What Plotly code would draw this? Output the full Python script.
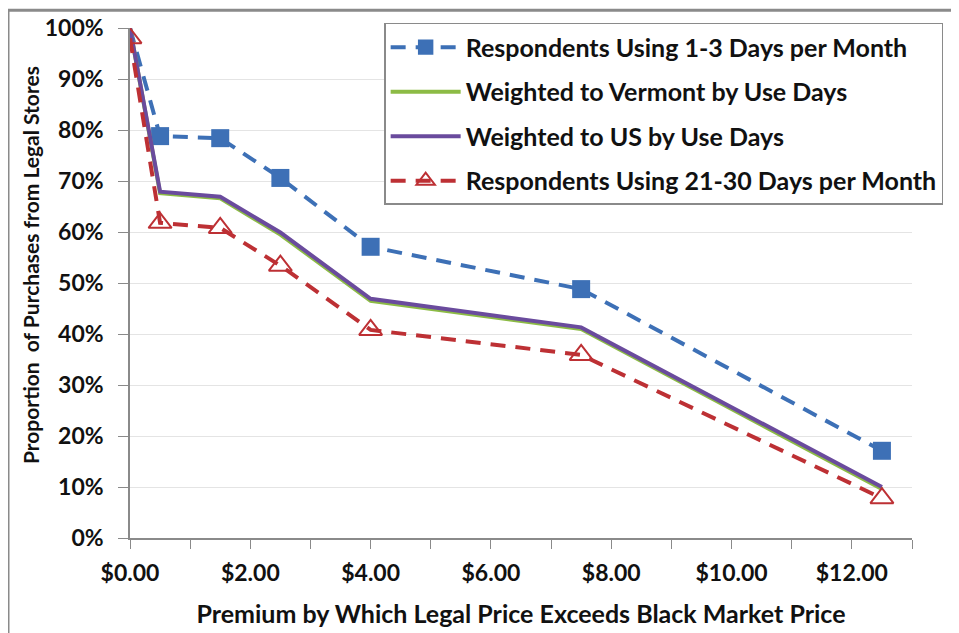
import plotly.graph_objects as go

# premium in $ over black market price
premium = [0, 0.5, 1.5, 2.5, 4, 7.5, 12.5]

# proportion of purchases from legal stores, %
light_users = [100, 78.8, 78.4, 70.6, 57.1, 48.8, 17.1]
weighted_vt = [100, 67.6, 66.6, 59.5, 46.5, 41.0, 9.6]
weighted_us = [100, 67.9, 66.9, 59.9, 46.9, 41.3, 10.0]
heavy_users = [98, 61.8, 60.8, 53.4, 40.8, 35.9, 7.8]

names = ['Respondents Using 1-3 Days per Month',
         'Weighted to Vermont by Use Days',
         'Weighted to US by Use Days',
         'Respondents Using 21-30 Days per Month']

BLUE = '#3d70b6'
GREEN = '#8cbb45'
PURPLE = '#6a4b9d'
RED = '#bd3034'
FONT = 'Lato'
bold = lambda s: dict(family=FONT, size=s, weight='bold', color='#111111')

fig = go.Figure()

fig.add_trace(go.Scatter(
    x=premium, y=light_users, name=names[0], legendgroup='a',
    mode='lines+markers',
    line=dict(color=BLUE, width=4, dash='15px,10px'),
    marker=dict(symbol='square', size=[0] + [18] * (len(premium) - 1),
                color=BLUE, opacity=1, line=dict(width=0))))
fig.add_trace(go.Scatter(
    x=premium, y=weighted_vt, name=names[1], legendgroup='b',
    mode='lines', line=dict(color=GREEN, width=4)))
fig.add_trace(go.Scatter(
    x=premium, y=weighted_us, name=names[2], legendgroup='c',
    mode='lines', line=dict(color=PURPLE, width=4)))
fig.add_trace(go.Scatter(
    x=premium, y=heavy_users, name=names[3], legendgroup='d',
    mode='lines+markers',
    line=dict(color=RED, width=4, dash='15px,10px'),
    marker=dict(symbol='triangle-up-open', size=20, color=RED, line=dict(width=2))))

# outer frame (cut at right and bottom like the source image)
frame = dict(type='line', xref='paper', yref='paper', line=dict(color='#8a8a8a', width=3))
fig.add_shape(frame, x0=-0.156, x1=1.1, y0=1.035, y1=1.035)
fig.add_shape(frame, x0=-0.156, x1=-0.156, y0=1.035, y1=-0.2)

# y title sits a bit above the plot centre in the original, so use an annotation
fig.add_annotation(text='Proportion  of Purchases from Legal Stores', textangle=-90,
                   xref='paper', yref='paper', x=-0.128, y=0.535,
                   xanchor='center', yanchor='middle', showarrow=False, font=bold(21))

fig.update_layout(
    width=959, height=633,
    margin=dict(l=122, r=55, t=20, b=103, autoexpand=False),
    paper_bgcolor='white', plot_bgcolor='white',
    font=bold(23),
    showlegend=True,
    legend=dict(
        x=0.325, y=1.010, xanchor='left', yanchor='top',
        bgcolor='white', bordercolor='#8a8a8a', borderwidth=1.5,
        font=bold(25),
        itemwidth=70, traceorder='grouped', tracegroupgap=9),
    xaxis=dict(
        range=[0, 13], dtick=2, tickprefix='$', tickformat='.2f',
        showgrid=False, showline=True, linecolor='#8a8a8a', linewidth=1.5,
        ticks='outside', ticklen=9, tickcolor='#8a8a8a',
        minor=dict(dtick=1, ticks='outside', ticklen=9, tickcolor='#8a8a8a'),
        tickfont=bold(23), ticklabelstandoff=5, automargin=False,
        title=dict(text='Premium by Which Legal Price Exceeds Black Market Price',
                   font=bold(25), standoff=20),
        zeroline=False),
    yaxis=dict(
        range=[0, 100], dtick=10, ticksuffix='%',
        showgrid=True, gridcolor='#e4e4e4', gridwidth=1,
        showline=True, linecolor='#8a8a8a', linewidth=1.5,
        ticks='outside', ticklen=10, tickcolor='#8a8a8a',
        tickfont=bold(23), ticklabelstandoff=10, automargin=False,
        zeroline=False),
)

fig.write_html("out.html")
